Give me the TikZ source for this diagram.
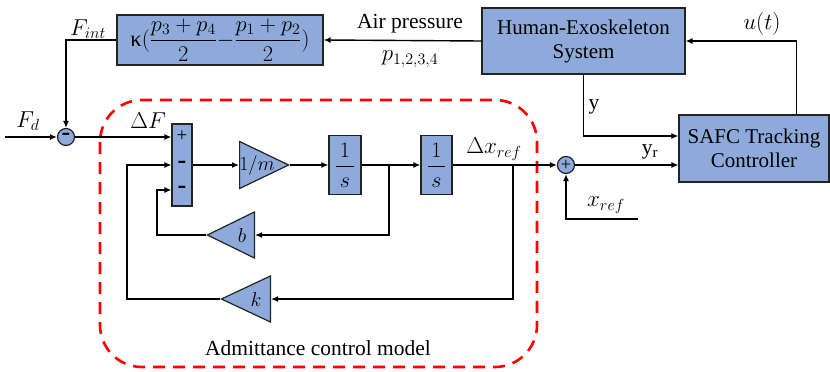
\documentclass[tikz,border=0pt]{standalone}
\usepackage{fix-cm}
\usepackage{amsmath}
\usepackage{fontspec}
\setmainfont{Liberation Serif}
\usetikzlibrary{shapes.geometric, arrows.meta, positioning, calc}
\definecolor{blockblue}{RGB}{142, 170, 219}
\definecolor{edge}{RGB}{35, 35, 35}
\definecolor{frame}{RGB}{255, 0, 0}
\newcommand{\intfrac}{$\genfrac{}{}{1.8pt}{0}{\,1\,}{s}$}
\tikzset{
    block/.style={rectangle, draw=edge, line width=1.2pt, fill=blockblue, align=center, inner sep=0pt, font=\rmfamily\fontsize{21}{24}\selectfont},
    gain/.style={isosceles triangle, isosceles triangle stretches, draw=edge, line width=1.2pt, fill=blockblue, inner sep=0pt},
    gaintxt/.style={inner sep=0pt, font=\fontsize{20}{22}\selectfont},
    sumnode/.style={circle, draw=edge, line width=1.2pt, fill=blockblue, minimum size=17pt, inner sep=0pt, font=\fontsize{26}{20}\selectfont\bfseries},
    sign/.style={inner sep=0pt, font=\fontsize{26}{21}\selectfont\bfseries},
    lbl/.style={inner sep=1pt, font=\rmfamily\fontsize{21.5}{24}\selectfont},
    mlbl/.style={inner sep=1pt, font=\fontsize{23}{26}\selectfont},
    arr/.style={-{Latex[length=7pt, width=6pt]}, line width=1.4pt},
    dashframe/.style={draw=frame, line width=2.6pt, dash pattern=on 12pt off 8pt, rounded corners=42pt}
}

\begin{document}
\begin{tikzpicture}[x=1pt, y=-1pt]
    \useasboundingbox (0,0) rectangle (830,372);
    \draw[dashframe] (100,100) rectangle (537,367);

    \node[block, minimum width=206pt, minimum height=50pt, font=\rmfamily\fontsize{22.5}{24}\selectfont] (kappa) at (220,40) {κ$(\dfrac{p_3+p_4}{2} {-} \dfrac{p_1+p_2}{2})$};
    \node[block, minimum width=203pt, minimum height=66pt] (hes) at (583.5,41) {Human-Exoskeleton\\System};
    \node[block, minimum width=150pt, minimum height=67pt] (safc) at (754,148.5) {SAFC Tracking\\Controller};

    \node[sumnode] (fsum) at (66,137) {-};
    \node[sumnode, font=\fontsize{18}{18}\selectfont] (xsum) at (566,165) {+};

    \node[block, minimum width=20pt, minimum height=82pt] (sumblk) at (182,165) {};
    \node[sign, font=\fontsize{19}{19}\selectfont] (splus) at (182,136) {+};
    \node[sign] (sminus1) at (182,165) {-};
    \node[sign] (sminus2) at (182,190) {-};

    \node[gain, anchor=west, minimum width=47pt, minimum height=49pt] (gm) at (239,165) {};
    \node[gaintxt] (gmtxt) at (257,165) {$1/m$};
    \node[block, minimum width=32pt, minimum height=59pt, font=\fontsize{22}{24}\selectfont] (int1) at (345,165) {\intfrac};
    \node[block, minimum width=31pt, minimum height=59pt, font=\fontsize{22}{24}\selectfont] (int2) at (436.5,165) {\intfrac};
    \node[gain, shape border rotate=180, anchor=east, minimum width=46pt, minimum height=47pt] (gb) at (255,235) {};
    \node[gaintxt] (gbtxt) at (242,236) {$b$};
    \node[gain, shape border rotate=180, anchor=east, minimum width=46pt, minimum height=49pt] (gk) at (271,299) {};
    \node[gaintxt] (gktxt) at (256,300) {$k$};

    \coordinate (fdin) at (5,137);
    \coordinate (br1) at (389,165);
    \coordinate (br2) at (513,165);
    \coordinate (bturn) at (157,190);
    \coordinate (kturn) at (127,165);
    \coordinate (xrefin) at (638,219);
    \coordinate (yin) at ($(safc.west)+(0,-12.5)$);
    \coordinate (uout) at ($(safc.north east)+(-33,0)$);

    \draw[arr] (hes.west) -- (kappa.east);
    \draw[arr] (kappa.west) -| (fsum.north);
    \draw[arr] (fdin) -- (fsum.west);
    \draw[arr] (fsum.east) -- (fsum -| sumblk.west);
    \draw[arr] (sumblk.east) -- (gm.west);
    \draw[arr] (gm.east) -- (int1.west);
    \draw[arr] (int1.east) -- (int2.west);
    \draw[arr] (int2.east) -- (xsum.west);
    \draw[arr] (br1) |- (gb.east);
    \draw[arr] (gb.west) -| (bturn) -- (bturn -| sumblk.west);
    \draw[arr] (br2) |- (gk.east);
    \draw[arr] (gk.west) -| (kturn) -- (kturn -| sumblk.west);
    \draw[arr] (xrefin) -| (xsum.south);
    \draw[arr] (xsum.east) -- (xsum -| safc.west);
    \draw[arr] (hes.south) |- (yin);
    \draw[arr] (uout) |- (hes.east);

    \node[mlbl] (fdlbl) at (28,121) {$F_d$};
    \node[mlbl] (fintlbl) at (88,29) {$F_{int}$};
    \node[mlbl] (dflbl) at (148,121) {$\Delta F$};
    \node[lbl] (airlbl) at (410,24) {Air pressure};
    \node[mlbl] (plbl) at (410,59) {$p_{1,2,3,4}$};
    \node[mlbl] (ulbl) at (762,24) {$u(t)$};
    \node[lbl] (ylbl) at (594,107) {y};
    \node[lbl] (yrlbl) at (650,152) {y\textsubscript{r}};
    \node[mlbl] (dxlbl) at (494,149) {$\Delta x_{ref}$};
    \node[mlbl] (xreflbl) at (606,205) {$x_{ref}$};
    \node[lbl] (admlbl) at (318,348) {Admittance control model};
\end{tikzpicture}
\end{document}
